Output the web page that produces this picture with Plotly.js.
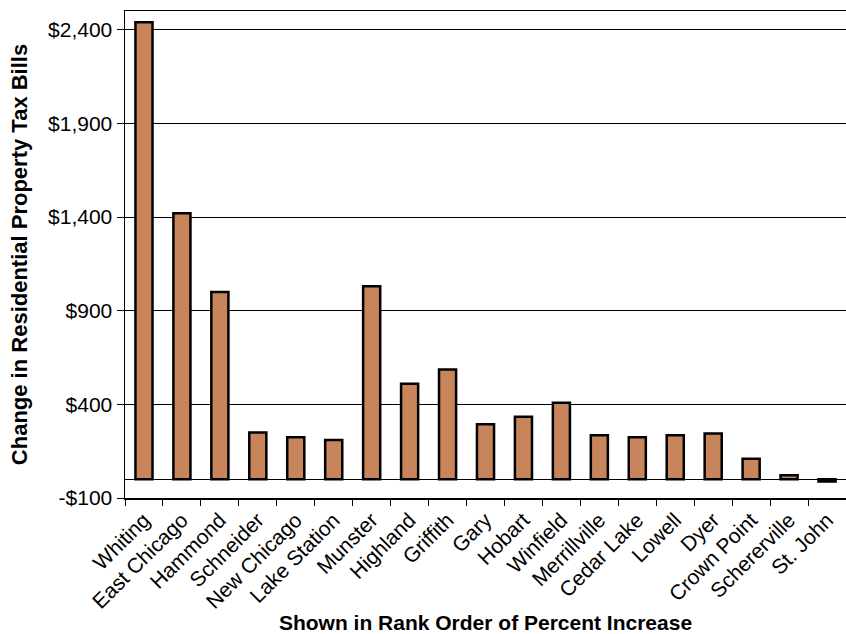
<!DOCTYPE html>
<html>
<head>
<meta charset="utf-8">
<script src="https://cdn.plot.ly/plotly-3.0.1.min.js"></script>
<style>html,body{margin:0;padding:0;background:#fff;overflow:hidden}</style>
</head>
<body>
<div id="chart" style="width:846px;height:634px"></div>
<script>
const towns = ["Whiting","East Chicago","Hammond","Schneider","New Chicago","Lake Station","Munster","Highland","Griffith","Gary","Hobart","Winfield","Merrillville","Cedar Lake","Lowell","Dyer","Crown Point","Schererville","St. John"];
const changes = [2440, 1420, 1000, 250, 225, 210, 1030, 510, 586, 294, 334, 409, 235, 225, 235, 244, 109, 22, -12];
const yTickVals = [-100, 400, 900, 1400, 1900, 2400];
const yTickText = ["-$100", "$400", "$900", "$1,400", "$1,900", "$2,400"];

const trace = {
  type: "bar",
  x: towns,
  y: changes,
  marker: {color: "#c8845a", line: {color: "#000", width: 2.5}},
  hoverinfo: "x+y"
};

const layout = {
  width: 846, height: 634,
  margin: {l: 125, r: 0, t: 11, b: 136},
  paper_bgcolor: "#fff", plot_bgcolor: "#fff",
  font: {family: "Liberation Sans, Arial, sans-serif", color: "#000"},
  bargap: 0.55,
  showlegend: false,
  xaxis: {
    type: "category",
    tickangle: -45,
    tickson: "boundaries",
    ticks: "outside", ticklen: 6, tickcolor: "#000",
    showline: true, linecolor: "#000", linewidth: 1.5, mirror: true,
    showgrid: false,
    automargin: false,
    tickfont: {size: 21},
    title: {text: "<b>Shown in Rank Order of Percent Increase</b>", font: {size: 21}, standoff: 8}
  },
  yaxis: {
    range: [-100, 2500],
    tickvals: yTickVals, ticktext: yTickText,
    ticks: "outside", ticklen: 7, tickcolor: "#000",
    showline: true, linecolor: "#000", linewidth: 1.5,
    showgrid: true, gridcolor: "#000", gridwidth: 1,
    zeroline: true, zerolinecolor: "#000", zerolinewidth: 1,
    automargin: false,
    tickfont: {size: 21},
    title: {text: "<b>Change in Residential Property Tax Bills</b>", font: {size: 22}, standoff: 14}
  }
};

Plotly.newPlot("chart", [trace], layout, {displayModeBar: false, staticPlot: true});
</script>
</body>
</html>
